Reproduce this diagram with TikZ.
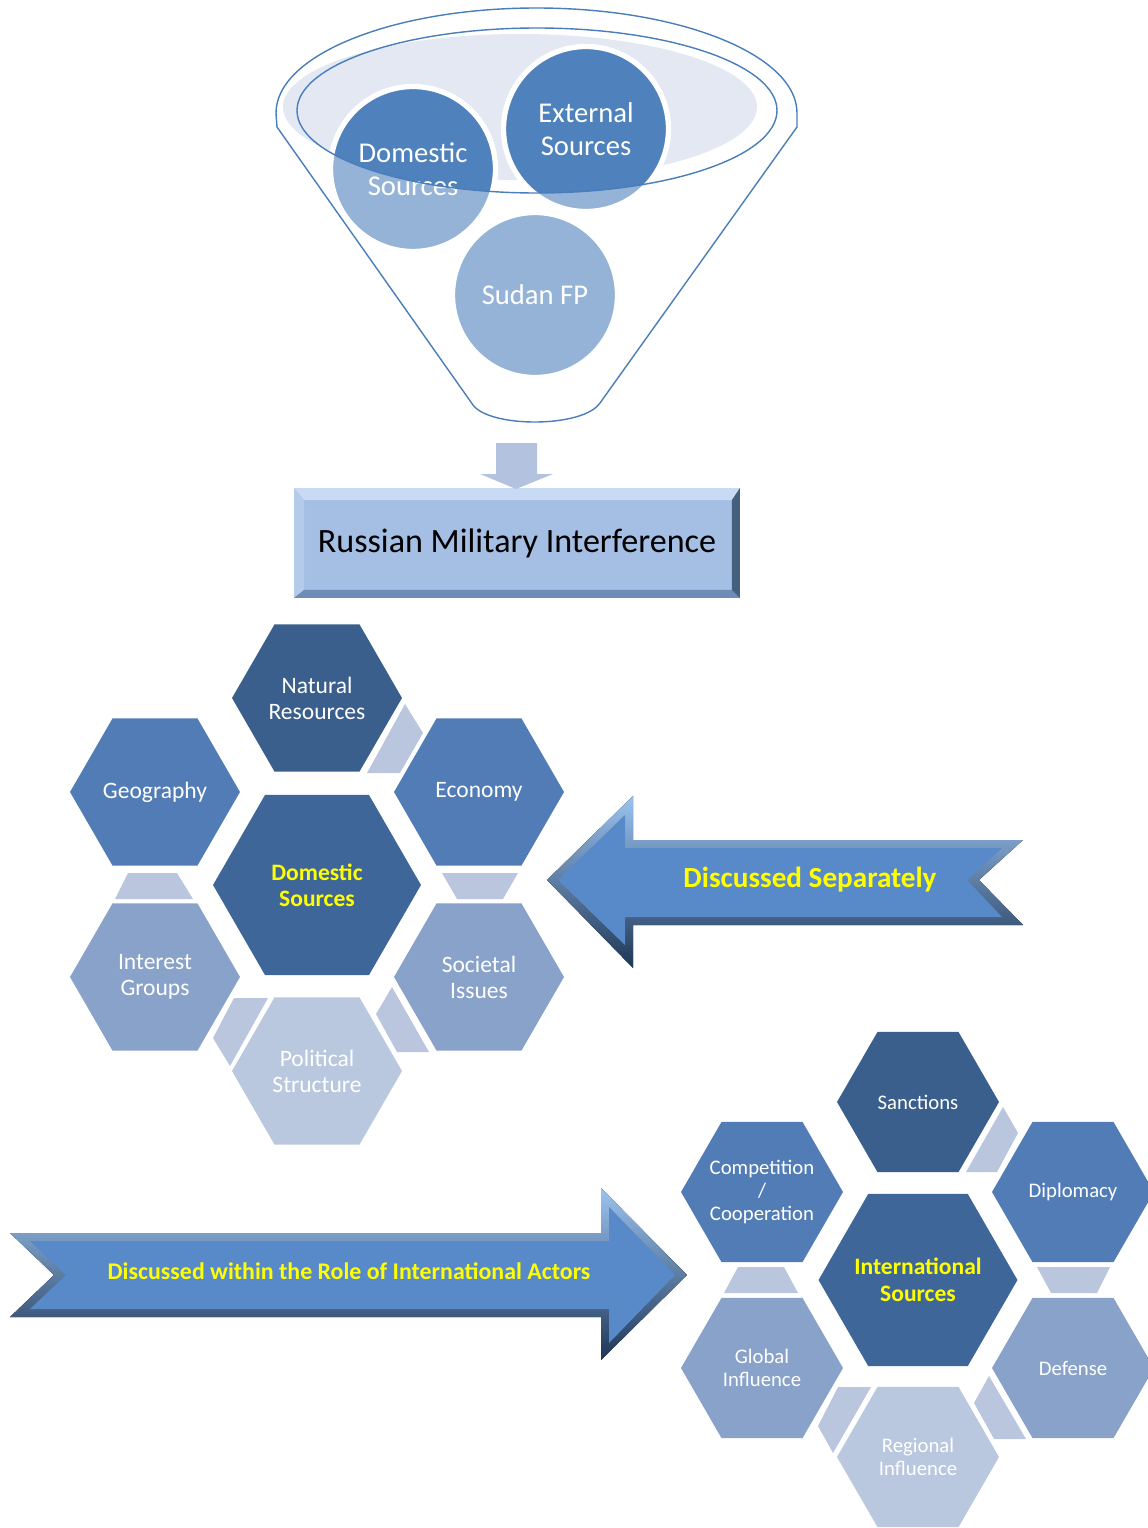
\documentclass[tikz,border=0pt]{standalone}
\usepackage{fontspec}
\setmainfont{Carlito}
\usepackage{tikz}
\usetikzlibrary{shapes.geometric, calc}

\definecolor{funnelline}{HTML}{4A7EBB}
\definecolor{funnelfill}{HTML}{E3E8F2}
\definecolor{circdark}{HTML}{4F81BD}
\definecolor{circlight}{HTML}{95B3D7}
\definecolor{boxfill}{HTML}{A4BEE4}
\definecolor{boxtop}{HTML}{C9DBF4}
\definecolor{boxleft}{HTML}{B4CBEC}
\definecolor{boxbottom}{HTML}{6E8CB6}
\definecolor{boxright}{HTML}{45607F}
\definecolor{downarr}{HTML}{B3C3DF}
\definecolor{hexone}{HTML}{3A5F8C}
\definecolor{hexcore}{HTML}{3F6698}
\definecolor{hextwo}{HTML}{527CB6}
\definecolor{hexthree}{HTML}{88A2C9}
\definecolor{hexfour}{HTML}{B9C7DF}
\definecolor{hexlink}{HTML}{BAC6DE}
\definecolor{arrmain}{HTML}{5889C8}
\definecolor{arrlight}{HTML}{9CC3F0}
\definecolor{arrdark}{HTML}{1E3656}
\definecolor{labelyellow}{HTML}{FFFF00}

\begin{document}
\begin{tikzpicture}[
    x=0.02cm, y=-0.02cm,
    funnel/.style={draw=funnelline, line width=0.8pt},
    source/.style={circle, minimum size=3.3cm, inner sep=0pt, draw=white, line width=3pt, text=white, align=center, font=\fontsize{16.3}{18.7}\selectfont},
    hexdom/.style={regular polygon, regular polygon sides=6, minimum size=3.4cm, inner sep=-8pt, text=white, align=center, font=\fontsize{13.4}{14.8}\selectfont},
    coredom/.style={hexdom, minimum size=4.16cm, fill=hexcore, text=labelyellow, font=\bfseries\fontsize{13.4}{14.8}\selectfont},
    hexint/.style={hexdom, minimum size=3.24cm, font=\fontsize{11.8}{13.3}\selectfont},
    coreint/.style={hexint, minimum size=3.98cm, fill=hexcore, text=labelyellow, font=\bfseries\fontsize{13.4}{15.3}\selectfont},
    link/.style={fill=hexlink},
    bigarrow/.style={top color=arrlight, bottom color=arrdark},
    arrowtext/.style={text=labelyellow, font=\bfseries\fontsize{16.6}{19}\selectfont},
]
    \useasboundingbox (0,0) rectangle (1147,1528);

    % Funnel with the three sources
    \fill[funnelfill] (520,107) ellipse [x radius=237, y radius=73];
    \fill[circlight] (413,169) circle [radius=81];
    \fill[circlight] (586,129) circle [radius=81];
    \fill[circlight] (535,295) circle [radius=81];
    \begin{scope}
        \clip (537,110.5) ellipse [x radius=240, y radius=82.5];
        \fill[circdark] (413,169) circle [radius=81];
        \fill[circdark] (586,129) circle [radius=81];
    \end{scope}
    \node[source] (domc) at (413,169) {Domestic\\Sources};
    \node[source] (extc) at (586,129) {External\\Sources};
    \node[source] (sudc) at (535,295) {Sudan FP};
    \draw[funnel] (473,405) -- (277,127) -- (276,113)
        arc[start angle=180, end angle=360, x radius=260.5, y radius=105]
        -- (797,127) -- (600,403) .. controls (583,428) and (490,428) .. (473,405);
    \draw[funnel] (537,110.5) ellipse [x radius=240, y radius=82.5];

    % Result box
    \node[fill=boxfill, minimum width=8.92cm, minimum height=2.2cm, outer sep=0pt, font=\fontsize{19.4}{22}\selectfont] (rmi) at (517,543) {Russian Military Interference};
    \fill[boxtop] (rmi.north west) -- (rmi.north east) -- ($(rmi.north east)+(-8,12)$) -- ($(rmi.north west)+(10,12)$) -- cycle;
    \fill[boxleft] (rmi.north west) -- ($(rmi.north west)+(10,12)$) -- ($(rmi.south west)+(10,-8)$) -- (rmi.south west) -- cycle;
    \fill[boxbottom] (rmi.south west) -- ($(rmi.south west)+(10,-8)$) -- ($(rmi.south east)+(-8,-8)$) -- (rmi.south east) -- cycle;
    \fill[boxright] (rmi.north east) -- (rmi.south east) -- ($(rmi.south east)+(-8,-8)$) -- ($(rmi.north east)+(-8,12)$) -- cycle;
    \fill[downarr] ($(rmi.north)+(-21,-45)$) -- ++(41,0) -- ++(0,31) -- ++(16,0) -- ($(rmi.north)+(-1,1)$)
        -- ($(rmi.north)+(-37,-14)$) -- ++(16,0) -- cycle;

    % Domestic cluster
    \fill[link] (405,704) -- (423,733) -- (400,773) -- (367,773) -- cycle;
    \fill[link] (128,873) -- (177,873) -- (193,899) -- (115,899) -- cycle;
    \fill[link] (442,873) -- (518,873) -- (503,899) -- (457,899) -- cycle;
    \fill[link] (213,1038) -- (234,998) -- (268,998) -- (230,1066) -- cycle;
    \fill[link] (376,1014) -- (392,987) -- (429,1052) -- (397,1052) -- cycle;
    \node[coredom] (dcore) at (317,885) {Domestic\\Sources};
    \node[hexdom, fill=hexone] (natres) at ($(dcore)+(0,-187)$) {Natural\\Resources};
    \node[hexdom, fill=hextwo] (geo) at ($(dcore)+(-162,-93)$) {Geography};
    \node[hexdom, fill=hextwo] (econ) at ($(dcore)+(162,-93)$) {Economy};
    \node[hexdom, fill=hexthree] (intgr) at ($(dcore)+(-162,92)$) {Interest\\Groups};
    \node[hexdom, fill=hexthree] (soc) at ($(dcore)+(162,92)$) {Societal\\Issues};
    \node[hexdom, fill=hexfour] (polit) at ($(dcore)+(0,186)$) {Political\\Structure};

    % Arrow into the domestic cluster
    \fill[bigarrow] (547,880) -- (633,796) -- (633,840) -- (1023,840) -- (979,880) -- (1023,925) -- (633,925) -- (633,968) -- cycle;
    \fill[arrmain] (558,880) -- (625,815) -- (625,848) -- (1002,848) -- (967,880) -- (1002,917) -- (625,917) -- (625,945) -- cycle;
    \node[arrowtext] (sepl) at (810,880) {Discussed Separately};

    % International cluster
    \fill[link] (1003,1107) -- (1018,1133) -- (997,1172) -- (966,1172) -- cycle;
    \fill[link] (738,1267) -- (784,1267) -- (798,1293) -- (724,1293) -- cycle;
    \fill[link] (1037,1267) -- (1110,1267) -- (1097,1293) -- (1051,1293) -- cycle;
    \fill[link] (818,1426) -- (838,1387) -- (871,1387) -- (833,1453) -- cycle;
    \fill[link] (974,1403) -- (989,1376) -- (1026,1439) -- (994,1439) -- cycle;
    \node[coreint] (icore) at (918,1280) {International\\Sources};
    \node[hexint, fill=hexone] (sanc) at ($(icore)+(0,-178)$) {Sanctions};
    \node[hexint, fill=hextwo] (comp) at ($(icore)+(-156,-88)$) {Competition\\/\\Cooperation};
    \node[hexint, fill=hextwo] (dipl) at ($(icore)+(155,-88)$) {Diplomacy};
    \node[hexint, fill=hexthree] (glob) at ($(icore)+(-156,88)$) {Global\\Influence};
    \node[hexint, fill=hexthree] (def) at ($(icore)+(155,88)$) {Defense};
    \node[hexint, fill=hexfour] (reg) at ($(icore)+(0,177)$) {Regional\\Influence};

    % Arrow into the international cluster
    \fill[bigarrow] (10,1233) -- (601,1233) -- (601,1188) -- (687,1275) -- (601,1360) -- (601,1317) -- (10,1317) -- (54,1275) -- cycle;
    \fill[arrmain] (30,1241) -- (609,1241) -- (609,1207) -- (675,1275) -- (609,1343) -- (609,1309) -- (30,1309) -- (66,1275) -- cycle;
    \node[arrowtext, font=\bfseries\fontsize{13.6}{16}\selectfont] (intl) at (349,1271) {Discussed within the Role of International Actors};
\end{tikzpicture}
\end{document}
